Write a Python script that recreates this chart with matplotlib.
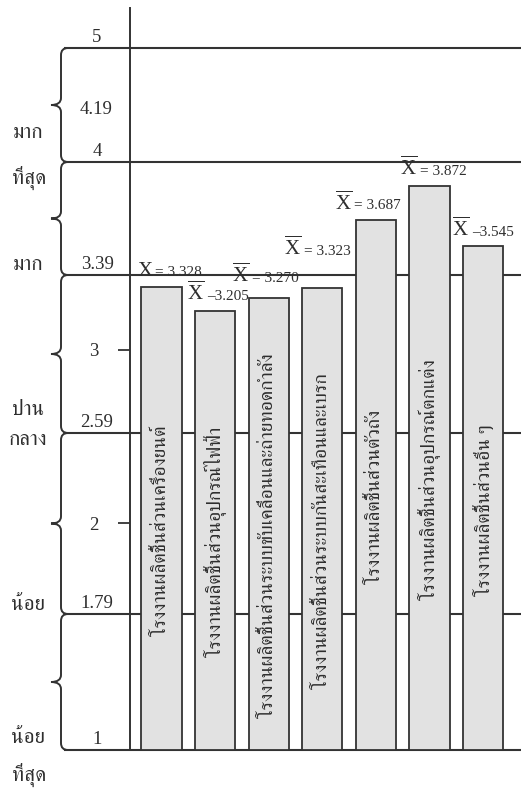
import numpy as np
import matplotlib
matplotlib.use("Agg")
import matplotlib.pyplot as plt
from matplotlib import font_manager
from matplotlib.ft2font import FT2Font
from matplotlib.path import Path
from matplotlib.patches import PathPatch
from matplotlib.offsetbox import TextArea, HPacker, AnnotationBbox

# ------------------------------------------------------------------ data
categories = [
    "โรงงานผลิตชิ้นส่วนเครื่องยนต์",
    "โรงงานผลิตชิ้นส่วนอุปกรณ์ไฟฟ้า",
    "โรงงานผลิตชิ้นส่วนระบบขับเคลื่อนและถ่ายทอดกำลัง",
    "โรงงานผลิตชิ้นส่วนระบบกันสะเทือนและเบรก",
    "โรงงานผลิตชิ้นส่วนตัวถัง",
    "โรงงานผลิตชิ้นส่วนอุปกรณ์ตกแต่ง",
    "โรงงานผลิตชิ้นส่วนอื่น ๆ",
]
mean_scores = [3.328, 3.205, 3.270, 3.323, 3.687, 3.872, 3.545]
score_texts = ["3.328", "3.205", "3.270", "3.323", "3.687", "3.872", "3.545"]
score_signs = ["= ", "–", "= ", "= ", "= ", "= ", "–"]
band_limits = [1, 1.79, 2.59, 3.39, 4, 5]
band_limit_labels = ["1", "1.79", "2.59", "3.39", "4", "5"]
tick_values = [2, 3]
tick_labels = ["2", "3"]
extra_label = "4.19"
level_words = ["มาก", "ที่สุด", "มาก", "ปาน", "กลาง", "น้อย", "น้อย", "ที่สุด"]

# ------------------------------------------------------------------ style / layout
W, H = 521, 791
AX_LEFT, AX_RIGHT, AX_BOTTOM, AX_TOP = 130, 521, 750, 8   # pixels
# hand-drawn (non-linear) axis: value -> pixels above the baseline
SCALE_VALS = [0, 1, 1.79, 2, 2.59, 3, 3.39, 4, 5, 6]
SCALE_POS = [-136, 0, 136, 227, 317, 400, 475, 588, 702, 816]
LINE_COL = "#333333"
TEXT_COL = "#2e2e2e"
BAR_FILL = "#e2e2e2"
level_px = [(28, 133), (29, 178), (28, 265), (28, 410), (28, 440),
            (28, 605), (28, 738), (29, 775)]
# per-label nudges of the mean labels (pixels: right, up)
label_nudge_px = [(8, 0), (3, 0), (-3, 6), (-5, 22), (-8, 0), (4, 0), (0, 0)]


def find_thai_family():
    found = []
    for f in font_manager.fontManager.ttflist:
        try:
            cmap = FT2Font(f.fname).get_charmap()
        except Exception:
            continue
        if 0x0E01 in cmap and 0x0E21 in cmap and 0x0E49 in cmap:
            found.append(f.name)
    if not found:
        return "DejaVu Sans"
    for key in ("Serif", "Norasi", "Kinnari", "Sarabun", "Garuda", "Loma"):
        for n in found:
            if key in n:
                return n
    return found[0]


THAI = [find_thai_family(), "DejaVu Sans"]
SERIF = "Liberation Serif"
plt.rcParams["mathtext.fontset"] = "custom"
plt.rcParams["mathtext.rm"] = SERIF
plt.rcParams["mathtext.it"] = SERIF + ":italic"
plt.rcParams["font.family"] = [SERIF, "DejaVu Sans"]


def fwd(v):
    return np.interp(v, SCALE_VALS, SCALE_POS)


def inv(u):
    return np.interp(u, SCALE_POS, SCALE_VALS)


fig = plt.figure(figsize=(W / 100, H / 100), dpi=100)
fig.patch.set_facecolor("white")
ax = fig.add_axes([AX_LEFT / W, (H - AX_BOTTOM) / H,
                   (AX_RIGHT - AX_LEFT) / W, (AX_BOTTOM - AX_TOP) / H])
ax.set_yscale("function", functions=(fwd, inv))
top_val = float(inv(AX_BOTTOM - AX_TOP))
ax.set_ylim(1, top_val)
x = np.arange(len(categories))
ax.set_xlim(-0.588, 6.707)
ax.set_facecolor("none")
for s in ("top", "right", "bottom"):
    ax.spines[s].set_visible(False)
ax.spines["left"].set_color(LINE_COL)
ax.spines["left"].set_linewidth(1.4)
ax.set_xticks([])

# ticks at 2 and 3
ax.set_yticks(tick_values)
ax.set_yticklabels(tick_labels, fontsize=13.5, color=TEXT_COL)
ax.yaxis.set_minor_locator(matplotlib.ticker.NullLocator())
ax.tick_params(axis="y", length=9, width=1.3, color=LINE_COL, pad=14)


def to_fig(px, py):
    return px / W, 1 - py / H


def val_to_py(v):
    disp = ax.transData.transform((0, v))
    return H - disp[1] * H / fig.bbox.height


# horizontal band lines
for v in band_limits:
    ax.axhline(v, xmin=(65 - AX_LEFT) / (AX_RIGHT - AX_LEFT), xmax=1,
               color=LINE_COL, lw=1.5, zorder=1, clip_on=False)

# bars
bars = ax.bar(x, np.array(mean_scores) - 1, bottom=1, width=0.75,
              color=BAR_FILL, edgecolor=LINE_COL, linewidth=1.3, zorder=3)

# labels in bars
for xi, v, name in zip(x, mean_scores, categories):
    mid = float(inv((fwd(v) + fwd(1)) / 2))
    mid = float(inv(fwd(mid) - 12))
    ax.text(xi, mid, name, rotation=90, ha="center", va="center",
            rotation_mode="anchor", fontsize=14, family=THAI,
            color=TEXT_COL, zorder=4)

# mean labels above bars
for i, (xi, v) in enumerate(zip(x, mean_scores)):
    xsym = r"X" if i == 0 else r"$\overline{\mathrm{X}}$"
    big = TextArea(xsym, textprops=dict(fontsize=15, family=SERIF, color=TEXT_COL))
    small = TextArea(score_signs[i] + score_texts[i],
                     textprops=dict(fontsize=11, family=SERIF, color=TEXT_COL))
    box = HPacker(children=[big, small], align="baseline", pad=0, sep=2)
    dx, dy = label_nudge_px[i]
    ab = AnnotationBbox(box, (xi, v), xybox=(dx * 0.72, 4 + dy * 0.72),
                        boxcoords="offset points", frameon=False,
                        box_alignment=(0.5, 0), zorder=5)
    ax.add_artist(ab)

# braces
verts, codes = [], []
xe, x0, xt, r = 68, 61, 51, 7
for lo, hi in zip(band_limits[:-1], band_limits[1:]):
    yt, yb = val_to_py(hi), val_to_py(lo)
    ym = (yt + yb) / 2
    pts = [((xe, yt), Path.MOVETO),
           ((x0, yt), Path.CURVE3), ((x0, yt + r), Path.CURVE3),
           ((x0, ym - r), Path.LINETO),
           ((x0, ym), Path.CURVE3), ((xt, ym), Path.CURVE3),
           ((x0, ym), Path.CURVE3), ((x0, ym + r), Path.CURVE3),
           ((x0, yb - r), Path.LINETO),
           ((x0, yb), Path.CURVE3), ((xe, yb), Path.CURVE3)]
    for (px, py), c in pts:
        verts.append(to_fig(px, py))
        codes.append(c)
fig.add_artist(PathPatch(Path(verts, codes), transform=fig.transFigure,
                         facecolor="none", edgecolor=LINE_COL, lw=1.4))

# band limit labels (above the lines)
for v, t in zip(band_limits, band_limit_labels):
    fx, fy = to_fig(97, val_to_py(v) - 2)
    fig.text(fx, fy, t, ha="center", va="bottom", fontsize=13.5,
             family=SERIF, color=TEXT_COL)
# the 4.19 label in the top band
fx, fy = to_fig(96, (val_to_py(4) + val_to_py(5)) / 2 + 4)
fig.text(fx, fy, extra_label, ha="center", va="center", fontsize=13.5,
         family=SERIF, color=TEXT_COL)

# level words on the far left
for word, (px, py) in zip(level_words, level_px):
    fx, fy = to_fig(px, py)
    fig.text(fx, fy, word, ha="center", va="center", fontsize=15,
             family=THAI, color=TEXT_COL)

fig.savefig("out.png", dpi=100)
